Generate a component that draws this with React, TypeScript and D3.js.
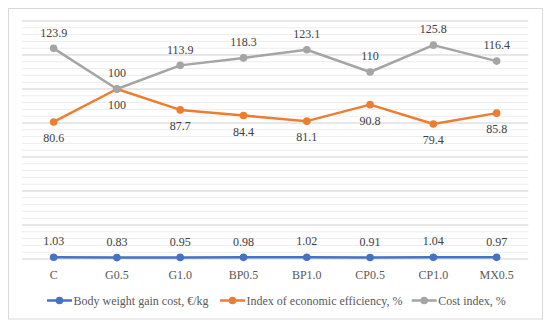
import React from "react";
import * as d3 from "d3";

const categories = ["C", "G0.5", "G1.0", "BP0.5", "BP1.0", "CP0.5", "CP1.0", "MX0.5"];
const bodyWeightCost = [1.03, 0.83, 0.95, 0.98, 1.02, 0.91, 1.04, 0.97];
const econEfficiency = [80.6, 100, 87.7, 84.4, 81.1, 90.8, 79.4, 85.8];
const costIndex = [123.9, 100, 113.9, 118.3, 123.1, 110, 125.8, 116.4];
const seriesNames = ["Body weight gain cost, €/kg", "Index of economic efficiency, %", "Cost index, %"];
const colors = ["#4472C4", "#ED7D31", "#A5A5A5"];
const yMax = 140;

const W = 550, H = 327;
const left = 22, right = 528.3, top = 21, bottom = 259;
const font = "'Liberation Serif', serif";
const fs = 12;

export default function App() {
  const x = d3.scaleBand<string>().domain(categories).range([left, right]);
  const y = d3.scaleLinear().domain([0, yMax]).range([bottom, top]);
  const cx = (c: string) => (x(c) ?? 0) + x.bandwidth() / 2;
  const line = d3.line<number>().x((_, i) => cx(categories[i])).y((d) => y(d));
  const minor = d3.range(0, yMax + 0.001, 4);
  const major = d3.range(0, yMax + 0.001, 20);
  const series = [bodyWeightCost, econEfficiency, costIndex];
  const labelPos = (si: number) => (si === 1 ? 1 : -1);

  return (
    <svg width={W} height={H} style={{ position: "absolute", left: 0, top: 0 }}>
      <rect x={0} y={0} width={W} height={H} fill="#fff" />
      <rect x={8.5} y={8.5} width={534} height={310.5} fill="#fff" stroke="#d9d9d9" />
      {minor.map((v) => (
        <line key={"m" + v} x1={left} x2={right} y1={y(v)} y2={y(v)} stroke="#ededed" strokeWidth={1} />
      ))}
      {major.map((v) => (
        <line key={"M" + v} x1={left} x2={right} y1={y(v)} y2={y(v)} stroke="#d9d9d9" strokeWidth={1} />
      ))}
      {series.map((s, si) => (
        <g key={si}>
          <path d={line(s) ?? ""} fill="none" stroke={colors[si]} strokeWidth={2.5} strokeLinejoin="round" />
          {s.map((v, i) => (
            <circle key={i} cx={cx(categories[i])} cy={y(v)} r={3.8} fill={colors[si]} />
          ))}
          {s.map((v, i) => (
            <text
              key={"t" + i}
              x={cx(categories[i])}
              y={y(v) + labelPos(si) * 16}
              dy="0.35em"
              textAnchor="middle"
              fontFamily={font}
              fontSize={fs}
              fill="#404040"
            >
              {String(v)}
            </text>
          ))}
        </g>
      ))}
      {categories.map((c) => (
        <text key={c} x={cx(c)} y={275} dy="0.35em" textAnchor="middle" fontFamily={font} fontSize={fs} fill="#595959">
          {c}
        </text>
      ))}
      {[47, 220, 411.7].map((lx, i) => (
        <g key={"l" + i}>
          <line x1={lx} x2={lx + 25} y1={300.5} y2={300.5} stroke={colors[i]} strokeWidth={2.5} />
          <circle cx={lx + 12.5} cy={300.5} r={3.8} fill={colors[i]} />
          <text x={lx + 26.5} y={300.5} dy="0.35em" fontFamily={font} fontSize={fs} fill="#595959">
            {seriesNames[i]}
          </text>
        </g>
      ))}
    </svg>
  );
}
